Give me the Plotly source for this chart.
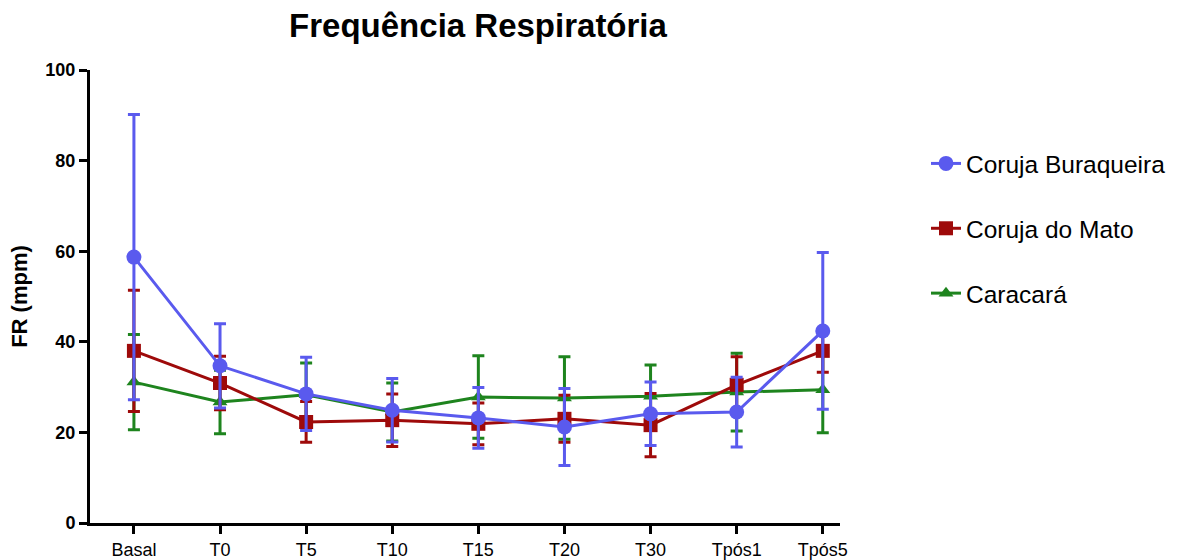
import plotly.graph_objects as go

categories = ["Basal", "T0", "T5", "T10", "T15", "T20", "T30", "Tpós1", "Tpós5"]

buraqueira_mean = [58.7, 34.7, 28.5, 24.9, 23.2, 21.2, 24.1, 24.5, 42.4]
buraqueira_sd = [31.5, 9.3, 8.1, 7.0, 6.7, 8.5, 7.0, 7.7, 17.3]

mato_mean = [38.0, 30.9, 22.3, 22.7, 21.9, 23.0, 21.6, 30.5, 38.0]
mato_sd = [13.4, 5.9, 4.5, 5.8, 4.6, 5.2, 7.0, 6.2, 4.7]

caracara_mean = [31.1, 26.7, 28.3, 24.5, 27.8, 27.6, 28.0, 28.9, 29.4]
caracara_sd = [10.5, 7.0, 7.0, 6.4, 9.1, 9.1, 6.9, 8.6, 9.5]

series = [
    ("Caracará", caracara_mean, caracara_sd, "#1E841E", "triangle-up", 13, 3),
    ("Coruja do Mato", mato_mean, mato_sd, "#9E0A0A", "square", 14, 2),
    ("Coruja Buraqueira", buraqueira_mean, buraqueira_sd, "#5A5AEE", "circle", 15, 1),
]

fig = go.Figure()
for name, m, sd, color, sym, size, rank in series:
    fig.add_trace(go.Scatter(
        x=list(range(len(categories))), y=m, name=name, legendgroup=name,
        legendrank=rank,
        mode="lines+markers",
        line=dict(color=color, width=3),
        marker=dict(color=color, symbol=sym, size=size),
        error_y=dict(type="data", array=sd, visible=True, color=color,
                     thickness=3, width=6),
    ))

fig.update_layout(
    width=1178, height=560,
    margin=dict(l=90, r=338, t=70, b=37),
    paper_bgcolor="white", plot_bgcolor="white",
    font=dict(family="Liberation Sans, Arial, sans-serif", color="black"),
    title=dict(text="<b>Frequência Respiratória</b>", x=478 / 1178, xanchor="center",
               y=1 - 25 / 560, yanchor="middle", xref="container", yref="container",
               font=dict(size=33, color="black")),
    xaxis=dict(
        range=[-0.51, 8.2], tickmode="array", tickvals=list(range(len(categories))),
        ticktext=categories, showgrid=False, zeroline=False,
        showline=True, linecolor="black", linewidth=3,
        ticks="outside", ticklen=8, tickwidth=3, tickcolor="black",
        tickfont=dict(size=18), fixedrange=True, automargin=False,
        ticklabelstandoff=0,
    ),
    yaxis=dict(
        range=[0, 100], tickvals=[0, 20, 40, 60, 80, 100], showgrid=False,
        zeroline=False, showline=True, linecolor="black", linewidth=3,
        ticks="outside", ticklen=8, tickwidth=3, tickcolor="black",
        tickfont=dict(size=18, weight="bold"), automargin=False,
        title=dict(text="<b>FR (mpm)</b>", font=dict(size=22), standoff=12),
    ),
    legend=dict(
        x=926 / 1178, y=1 - 141 / 560, xref="container", yref="container",
        xanchor="left", yanchor="top",
        traceorder="grouped", tracegroupgap=30,
        font=dict(size=24.5, color="black"), bgcolor="rgba(0,0,0,0)",
    ),
    showlegend=True,
)

fig.write_html("out.html")
